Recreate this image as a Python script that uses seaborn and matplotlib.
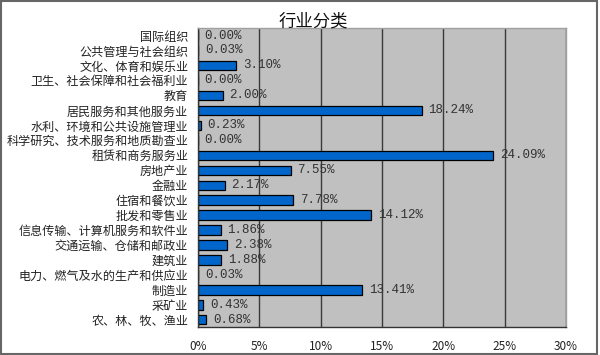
import matplotlib
matplotlib.use('Agg')
import matplotlib.pyplot as plt
import seaborn as sns
import pandas as pd
from matplotlib.patches import Rectangle
from matplotlib.ticker import FuncFormatter

# industries, top to bottom as in the chart
industries = ['国际组织', '公共管理与社会组织', '文化、体育和娱乐业', '卫生、社会保障和社会福利业',
              '教育', '居民服务和其他服务业', '水利、环境和公共设施管理业', '科学研究、技术服务和地质勘查业',
              '租赁和商务服务业', '房地产业', '金融业', '住宿和餐饮业', '批发和零售业',
              '信息传输、计算机服务和软件业', '交通运输、仓储和邮政业', '建筑业',
              '电力、燃气及水的生产和供应业', '制造业', '采矿业', '农、林、牧、渔业']
shares = [0.00, 0.03, 3.10, 0.00, 2.00, 18.24, 0.23, 0.00, 24.09, 7.55,
          2.17, 7.78, 14.12, 1.86, 2.38, 1.88, 0.03, 13.41, 0.43, 0.68]
x_ticks = [0, 5, 10, 15, 20, 25, 30]

df = pd.DataFrame({'industry': industries, 'share': shares})

sns.set_style('white')
plt.rcParams['font.family'] = ['Noto Sans CJK SC', 'DejaVu Sans']

fig = plt.figure(figsize=(6, 3.55), dpi=100)
ax = fig.add_axes([0.33, 0.078, 0.613, 0.843])
ax.set_facecolor('#c0c0c0')
ax.set_axisbelow(True)

sns.barplot(data=df, x='share', y='industry', orient='h', color='#0066cc',
            edgecolor='black', linewidth=0.9, width=0.62, saturation=1, ax=ax)

for i, v in enumerate(shares):
    ax.text(v + 0.55, i, '%.2f%%' % v, va='center', ha='left', fontsize=9,
            family='Liberation Mono', color='#333333')

ax.set_xlim(0, 30)
ax.set_ylim(len(industries) - 0.5, -0.5)
ax.set_xticks(x_ticks)
ax.xaxis.set_major_formatter(FuncFormatter(lambda v, p: '%d%%' % v))
ax.grid(axis='x', color='#3a3a3a', linewidth=1)
ax.grid(axis='y', visible=False)
ax.set_xlabel('')
ax.set_ylabel('')
ax.tick_params(axis='x', labelsize=8.5, pad=9, length=0, colors='#222222')
ax.tick_params(axis='y', labelsize=8.7, length=0, pad=7, colors='#222222')

for side in ['left', 'bottom']:
    ax.spines[side].set_color('#333333')
    ax.spines[side].set_linewidth(1)
for side in ['top', 'right']:
    ax.spines[side].set_color('#a0a0a0')
    ax.spines[side].set_linewidth(1)

fig.text(0.522, 0.94, '行业分类', ha='center', va='center', fontsize=12.5, color='#111111')

# outer frame of the chart picture
fig.patches.append(Rectangle((0.002, 0.002), 0.993, 0.995, transform=fig.transFigure,
                             fill=False, edgecolor='#666666', linewidth=1.5))

fig.savefig('out.png', dpi=100)
